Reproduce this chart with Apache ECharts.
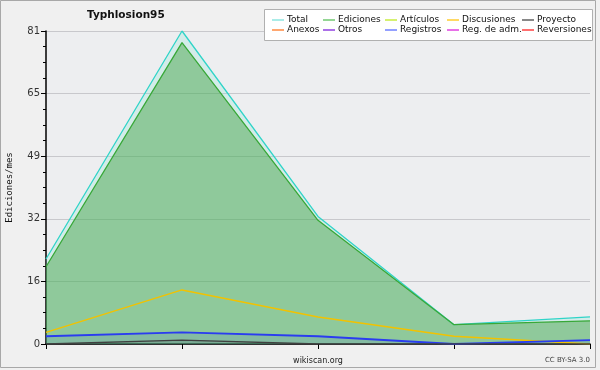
<!DOCTYPE html>
<html>
<head>
<meta charset="utf-8">
<script src="https://cdn.jsdelivr.net/npm/echarts@6/dist/echarts.min.js"></script>
<style>
html,body{margin:0;padding:0;background:#f0f0f0;}
#container{width:600px;height:370px;}
</style>
</head>
<body>
<div id="container"></div>
<script>
// meses (sin etiqueta visible en el eje)
var meses = ['1', '2', '3', '4', '5'];
var total = [22, 81, 33, 5, 7];
var ediciones = [20, 78, 32, 5, 6];
var discusiones = [3, 14, 7, 2, 0];
var registros = [2, 3, 2, 0, 1];
var proyecto = [0, 1, 0, 0, 0];
// sin valores visibles
var articulos = [];
var anexos = [];
var otros = [];
var regAdm = [];
var reversiones = [];
var yTicks = [0, 16, 32, 49, 65, 81];

var chart = echarts.init(document.getElementById('container'));

function leg(left, items) {
  return {
    orient: 'vertical',
    left: left,
    top: 10,
    icon: 'rect',
    itemWidth: 12,
    itemHeight: 1.5,
    itemGap: 0,
    selectedMode: false,
    textStyle: { fontFamily: 'DejaVu Sans', fontSize: 9, color: '#111', lineHeight: 10, padding: [0, 0, 0, -2] },
    data: items.map(function (it) { return { name: it[0], itemStyle: { color: it[1] } }; })
  };
}

function serie(name, data, color, width, area) {
  var s = {
    name: name,
    type: 'line',
    data: data,
    symbol: 'none',
    lineStyle: { color: color, width: width },
    itemStyle: { color: color }
  };
  if (area) s.areaStyle = { color: area, opacity: 1 };
  return s;
}

var option = {
  backgroundColor: '#f0f0f0',
  animation: false,
  title: {
    text: 'Typhlosion95',
    left: 82,
    top: 5,
    textStyle: { fontFamily: 'DejaVu Sans', fontSize: 10.5, fontWeight: 'bold', color: '#111' }
  },
  graphic: [
    { type: 'rect', z: 0, shape: { x: 0.5, y: 0.5, width: 595, height: 367 }, style: { fill: 'none', stroke: '#a8a8a8', lineWidth: 1 } },
    { type: 'rect', z: 3, shape: { x: 264.5, y: 9.5, width: 328, height: 31 }, style: { fill: '#ffffff', stroke: '#b0b0b0', lineWidth: 1 } },
    { type: 'text', right: 10, top: 357, style: { text: 'CC BY-SA 3.0', font: '7px "DejaVu Sans"', fill: '#444' } }
  ],
  legend: [
    leg(267, [['Total', '#8ee6e0'], ['Anexos', '#ff8a40']]),
    leg(318, [['Ediciones', '#70c870'], ['Otros', '#9040e0']]),
    leg(380, [['Artículos', '#c8ec40'], ['Registros', '#7080ff']]),
    leg(442, [['Discusiones', '#ffcc30'], ['Reg. de adm.', '#e040e0']]),
    leg(517, [['Proyecto', '#606060'], ['Reversiones', '#ff4040']])
  ],
  grid: {
    left: 46, right: 10, top: 31, bottom: 26,
    outerBoundsMode: 'none',
    containLabel: false,
    show: true, backgroundColor: '#edeef0', borderWidth: 0
  },
  xAxis: {
    type: 'category',
    data: meses,
    boundaryGap: false,
    name: 'wikiscan.org',
    nameLocation: 'middle',
    nameGap: 13,
    nameTextStyle: { fontFamily: 'DejaVu Sans', fontSize: 8, color: '#222' },
    axisLine: { lineStyle: { color: '#000', width: 1.5 } },
    axisTick: { show: true, length: 5, lineStyle: { color: '#000' } },
    axisLabel: { show: false },
    splitLine: { show: false }
  },
  yAxis: {
    type: 'value',
    min: 0,
    max: 81,
    interval: 16.2,
    name: 'Ediciones/mes',
    nameLocation: 'middle',
    nameGap: 32,
    nameRotate: 90,
    nameTextStyle: { fontFamily: 'DejaVu Sans Mono', fontSize: 9, color: '#111' },
    axisLine: { show: true, lineStyle: { color: '#000', width: 1.5 } },
    axisTick: { show: true, length: 5, lineStyle: { color: '#000' } },
    minorTick: { show: true, splitNumber: 4, length: 3, lineStyle: { color: '#000' } },
    axisLabel: {
      fontFamily: 'DejaVu Sans', fontSize: 10, color: '#333', margin: 6,
      formatter: function (v) {
        var r = Math.round(v);
        return yTicks.indexOf(r) >= 0 ? String(r) : '';
      }
    },
    splitLine: { show: true, lineStyle: { color: '#c8c8cc', width: 1 } }
  },
  series: [
    serie('Total', total, '#30d4c8', 1.3, 'rgba(120,230,210,0.22)'),
    serie('Ediciones', ediciones, '#38a838', 1.3, 'rgba(60,160,60,0.45)'),
    serie('Artículos', articulos, '#c8ec40', 1.3),
    serie('Discusiones', discusiones, '#f2c200', 1.5),
    serie('Registros', registros, '#2a3cf0', 1.8, 'rgba(40,70,230,0.1)'),
    serie('Proyecto', proyecto, '#404040', 1.3, 'rgba(50,50,50,0.12)'),
    serie('Anexos', anexos, '#ff8a40', 1.3),
    serie('Otros', otros, '#9040e0', 1.3),
    serie('Reg. de adm.', regAdm, '#e040e0', 1.3),
    serie('Reversiones', reversiones, '#ff4040', 1.3)
  ]
};

chart.setOption(option);
</script>
</body>
</html>
